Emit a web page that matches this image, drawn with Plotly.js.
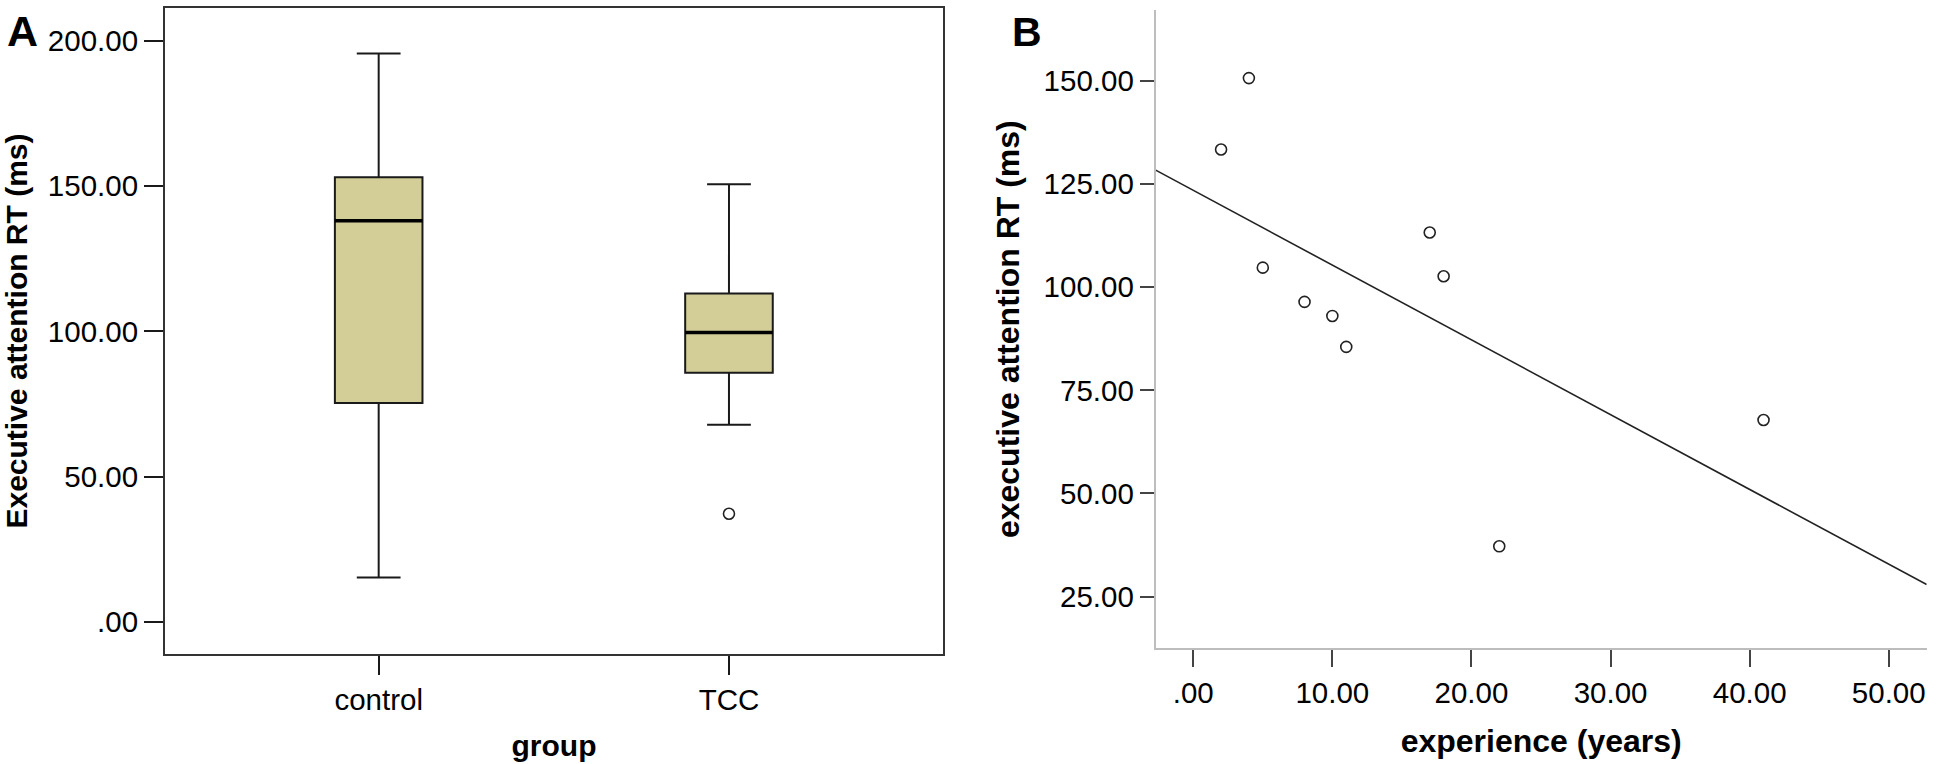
<!DOCTYPE html>
<html>
<head>
<meta charset="utf-8">
<script src="https://cdn.plot.ly/plotly-3.0.1.min.js"></script>
<style>
  html, body { margin: 0; padding: 0; background: #fff; }
  #chart { width: 1936px; height: 764px; }
</style>
</head>
<body>
<div id="chart"></div>
<script>
// panel A: box summary per group
var groups = ['control', 'TCC'];
var groupPos = [0, 1];
var lowerWhisker = [15.2, 67.8];
var q1 = [75.3, 85.7];
var median = [138.1, 99.6];
var q3 = [153.0, 113.0];
var upperWhisker = [195.6, 150.6];
var outlierGroup = [1];
var outlierValue = [37.2];

// panel B: experience vs executive attention RT (TCC group)
var experience = [2, 4, 5, 8, 10, 11, 17, 18, 22, 41];
var rt = [133.3, 150.6, 104.7, 96.4, 93.0, 85.5, 113.2, 102.6, 37.2, 67.8];

var yTicksA = [0, 50, 100, 150, 200];
var yTicksB = [25, 50, 75, 100, 125, 150];
var xTicksB = [0, 10, 20, 30, 40, 50];

function fmt(v) {
  return v === 0 ? '.00' : v.toFixed(2);
}

var boxW = 0.25;
var xRangeB = [-2.7, 52.73];

// least squares fit for the line in B
function fit(xs, ys) {
  var n = xs.length, mx = 0, my = 0;
  for (var i = 0; i < n; i++) { mx += xs[i]; my += ys[i]; }
  mx /= n; my /= n;
  var sxy = 0, sxx = 0;
  for (var j = 0; j < n; j++) {
    sxy += (xs[j] - mx) * (ys[j] - my);
    sxx += (xs[j] - mx) * (xs[j] - mx);
  }
  var b = sxy / sxx;
  return { a: my - b * mx, b: b };
}
var f = fit(experience, rt);

var font = 'Liberation Sans, Arial, sans-serif';
var tickFont = { family: font, size: 29.5, color: '#000' };

var traces = [];

traces.push({
  type: 'box',
  x: groupPos,
  q1: q1,
  median: median,
  q3: q3,
  lowerfence: lowerWhisker,
  upperfence: upperWhisker,
  width: boxW,
  whiskerwidth: 0.5,
  fillcolor: 'rgb(211,206,151)',
  line: { color: '#1a1a1a', width: 2 },
  boxpoints: false,
  hoverinfo: 'skip',
  xaxis: 'x', yaxis: 'y'
});

// thicker median bars, SPSS style
groupPos.forEach(function (p, i) {
  traces.push({
    type: 'scatter', mode: 'lines',
    x: [p - boxW / 2, p + boxW / 2],
    y: [median[i], median[i]],
    line: { color: '#000', width: 3.5 },
    hoverinfo: 'skip',
    xaxis: 'x', yaxis: 'y'
  });
});

traces.push({
  type: 'scatter', mode: 'markers',
  x: outlierGroup, y: outlierValue,
  marker: { symbol: 'circle-open', size: 11, color: '#222', line: { width: 1.6 } },
  hoverinfo: 'skip',
  xaxis: 'x', yaxis: 'y'
});

traces.push({
  type: 'scatter', mode: 'markers',
  x: experience, y: rt,
  marker: { symbol: 'circle-open', size: 11, color: '#222', line: { width: 1.6 } },
  xaxis: 'x2', yaxis: 'y2'
});

traces.push({
  type: 'scatter', mode: 'lines',
  x: xRangeB,
  y: xRangeB.map(function (v) { return f.a + f.b * v; }),
  line: { color: '#222', width: 1.6 },
  hoverinfo: 'skip',
  xaxis: 'x2', yaxis: 'y2'
});

var layout = {
  width: 1936, height: 764,
  margin: { l: 0, r: 0, t: 0, b: 0 },
  paper_bgcolor: '#fff', plot_bgcolor: '#fff',
  showlegend: false,
  font: { family: font, color: '#000' },
  xaxis: {
    domain: [165 / 1936, 943 / 1936],
    range: [-0.61, 1.611],
    tickvals: groupPos, ticktext: groups,
    ticks: 'outside', ticklen: 19, tickwidth: 2, tickcolor: '#1a1a1a',
    showline: true, mirror: true, linecolor: '#333', linewidth: 2,
    showgrid: false, zeroline: false,
    tickfont: tickFont,
    title: { text: 'group', font: { family: font, size: 30, color: '#000', weight: 'bold' }, standoff: 20 }
  },
  yaxis: {
    domain: [1 - 653.7 / 764, 1 - 8.3 / 764],
    range: [-11.0, 211.2],
    tickvals: yTicksA, ticktext: yTicksA.map(fmt),
    ticks: 'outside', ticklen: 19, tickwidth: 2, tickcolor: '#1a1a1a',
    showline: true, mirror: true, linecolor: '#333', linewidth: 2,
    showgrid: false, zeroline: false,
    tickfont: tickFont,
    title: { text: 'Executive attention RT (ms)', font: { family: font, size: 30, color: '#000', weight: 'bold' }, standoff: 14 }
  },
  xaxis2: {
    anchor: 'y2',
    domain: [1155.7 / 1936, 1926.7 / 1936],
    range: xRangeB,
    tickvals: xTicksB, ticktext: xTicksB.map(fmt),
    ticks: 'outside', ticklen: 17, tickwidth: 2, tickcolor: '#444',
    showline: true, linecolor: '#bdbdbd', linewidth: 2,
    showgrid: false, zeroline: false,
    tickfont: tickFont,
    title: { text: 'experience (years)', font: { family: font, size: 32, color: '#000', weight: 'bold' }, standoff: 22 }
  },
  yaxis2: {
    anchor: 'x2',
    domain: [1 - 648.3 / 764, 1 - 10 / 764],
    range: [12.5, 167.1],
    tickvals: yTicksB, ticktext: yTicksB.map(fmt),
    ticks: 'outside', ticklen: 14, tickwidth: 2, tickcolor: '#444',
    showline: true, linecolor: '#bdbdbd', linewidth: 2,
    showgrid: false, zeroline: false,
    tickfont: tickFont,
    title: { text: 'executive attention RT (ms)', font: { family: font, size: 32, color: '#000', weight: 'bold' }, standoff: 14 }
  },
  annotations: [
    { text: '<b>A</b>', xref: 'paper', yref: 'paper', x: 5 / 1936, y: 1 - 5 / 764,
      xanchor: 'left', yanchor: 'top', showarrow: false,
      font: { family: font, size: 43, color: '#000' } },
    { text: '<b>B</b>', xref: 'paper', yref: 'paper', x: 1010 / 1936, y: 1 - 7 / 764,
      xanchor: 'left', yanchor: 'top', showarrow: false,
      font: { family: font, size: 41, color: '#000' } }
  ]
};

Plotly.newPlot('chart', traces, layout, { staticPlot: true, displayModeBar: false });
</script>
</body>
</html>
